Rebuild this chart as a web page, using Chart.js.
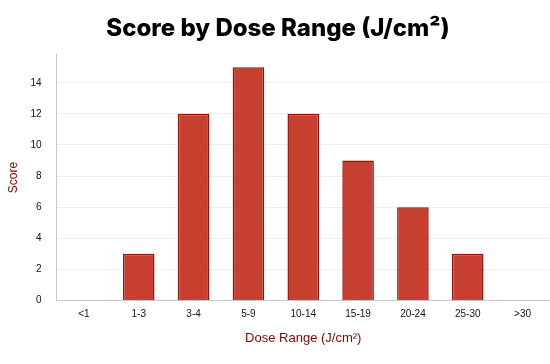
<!DOCTYPE html>
<html>
<head>
<meta charset="utf-8">
<script src="https://cdn.jsdelivr.net/npm/chart.js@4/dist/chart.umd.min.js"></script>
<style>
  html, body { margin: 0; padding: 0; background: #fff; }
  #wrap { width: 550px; height: 364px; }
</style>
</head>
<body>
<div id="wrap"><canvas id="c"></canvas></div>
<script>
const labels = ['<1', '1-3', '3-4', '5-9', '10-14', '15-19', '20-24', '25-30', '>30'];
const scores = [0, 3, 12, 15, 12, 9, 6, 3, 0];
const yTicks = [0, 2, 4, 6, 8, 10, 12, 14];

const AXIS_RED = '#8b0000';
const TICK_FONT = { family: 'Arial, Liberation Sans', size: 10 };

new Chart(document.getElementById('c'), {
  type: 'bar',
  data: {
    labels,
    datasets: [{
      label: 'Score',
      data: scores,
      backgroundColor: '#c84030',
      borderColor: '#9a0f08',
      borderWidth: 1.5,
      barPercentage: 0.72,
      categoryPercentage: 0.8
    }]
  },
  options: {
    responsive: true, maintainAspectRatio: false,
    animation: false,
    layout: { padding: { top: 2, right: 0, left: 6, bottom: 18 } },
    scales: {
      x: {
        grid: { display: false, drawTicks: false },
        border: { color: '#c8c8c8', width: 1 },
        ticks: { color: '#111', font: TICK_FONT, padding: 8 },
        title: { display: true, text: 'Dose Range (J/cm²)', color: AXIS_RED,
                 font: { family: 'Arial, Liberation Sans', size: 13 }, padding: { top: 2, bottom: 0 } }
      },
      y: {
        min: 0, max: 15.8,
        afterBuildTicks: axis => { axis.ticks = yTicks.map(v => ({ value: v })); },
        grid: { color: '#eeeeee', drawTicks: false },
        border: { color: '#c8c8c8', width: 1 },
        ticks: { color: '#111', font: TICK_FONT, padding: 15 },
        title: { display: true, text: 'Score', color: AXIS_RED,
                 font: { family: 'Arial, Liberation Sans', size: 12 }, padding: { top: 0, bottom: -5 } }
      }
    },
    plugins: {
      legend: { display: false },
      tooltip: { enabled: false },
      title: {
        display: true,
        text: 'Score by Dose Range (J/cm²)',
        color: '#000',
        font: { family: 'Inter', size: 24, weight: '800' },
        padding: { top: 12, bottom: 12 }
      }
    }
  }
});
</script>
</body>
</html>
